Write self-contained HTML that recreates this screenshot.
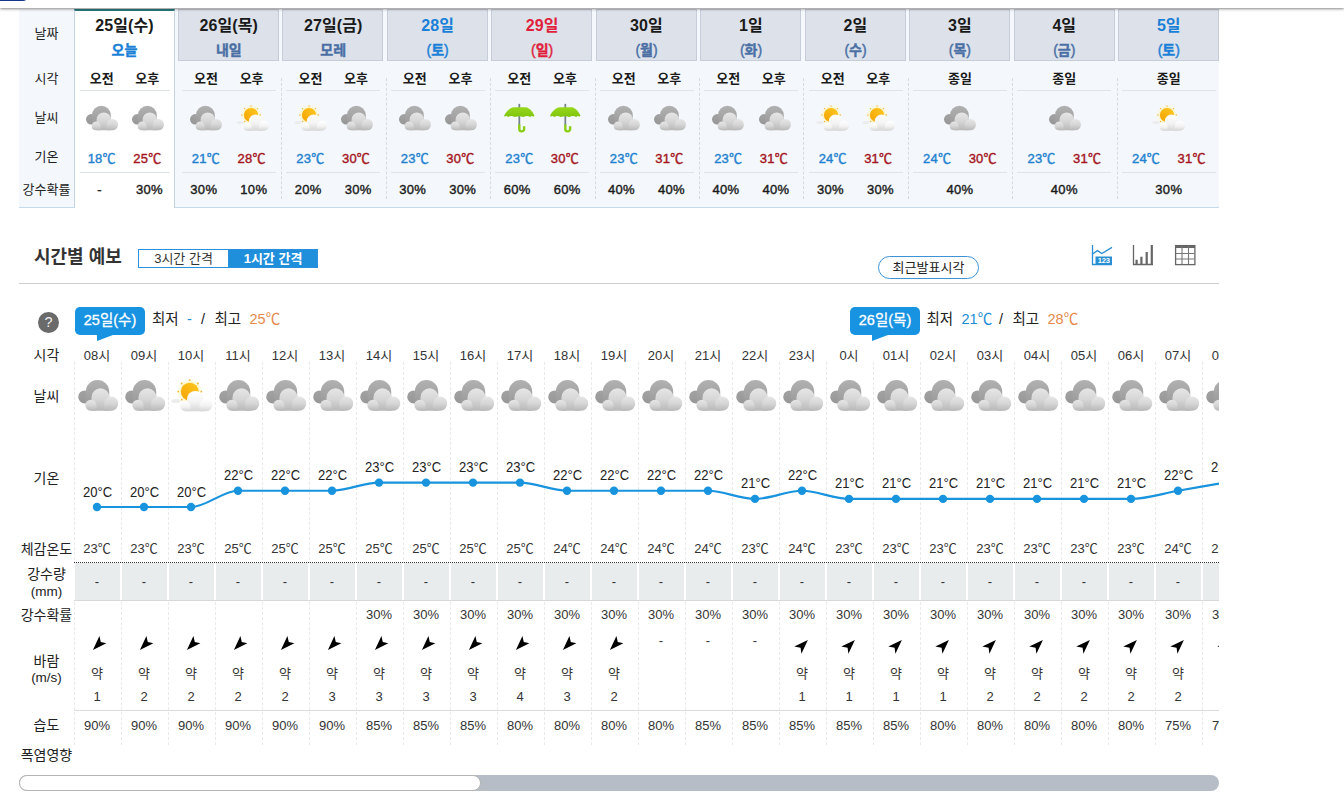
<!DOCTYPE html><html lang="ko"><head><meta charset="utf-8"><title>동네예보</title><style>
*{box-sizing:border-box;margin:0;padding:0}
html,body{width:1344px;height:807px;overflow:hidden;background:#fff}
body{position:relative;font-family:"Liberation Sans","Noto Sans CJK KR",sans-serif;font-size:13px;color:#222;line-height:1}
.a{position:absolute;white-space:nowrap}
svg.a{overflow:visible}
.c{position:absolute;white-space:nowrap;text-align:center}
b{font-weight:bold}
/* top bar */
#bar{left:0;top:0;width:1344px;height:8px;background:#fff;box-shadow:0 1px 3px rgba(0,0,0,.48);z-index:5}
#logo{left:0;top:-7px;width:28px;height:8px;background:#16368c;border-radius:0 0 5px 0;z-index:6}
/* weekly table */
#wk{left:19px;top:9px;width:1200px;height:199px;background:#f4f8fc;border-bottom:1px solid #c3dcec}
#today{left:74px;top:9px;width:101px;height:199px;background:#fff;border-left:1px solid #c4d4e2;border-right:1px solid #c4d4e2;border-top:2px solid #2a7d80}
.hd{top:9px;height:52px;background:#dde2ea;border:1px solid #c6ccd8}
.dl{width:0;border-left:1px dashed #d4dbe3;top:78px;height:121px}
.ul{height:1px;background:#dfe4ea}
.d1{font-size:16px;color:#1a1a1a;font-weight:bold;letter-spacing:.1px}
.d2{font-size:14px;-webkit-text-stroke:.4px currentColor}
.ap{font-size:13px;font-weight:bold;color:#1a1a1a}
.tl{color:#1f82d0;font-size:13px;-webkit-text-stroke:.4px currentColor;letter-spacing:.2px}
.th{color:#a5161f;font-size:13px;-webkit-text-stroke:.4px currentColor;letter-spacing:.2px}
.pp{color:#1a1a1a;font-size:13px;-webkit-text-stroke:.4px currentColor;letter-spacing:.3px}
.lb{color:#222;font-size:13px}
.blue{color:#1a7fd6}.red{color:#e01f3c}.mut{color:#4a6fa5}
/* hourly */
#ttl{left:34px;top:248px;font-size:18px;font-weight:bold;color:#333}
.tg{top:249px;height:19px;font-size:13px;line-height:17px;text-align:center;border:1px solid #2a8fdc}
#hr{left:19px;top:283px;width:1200px;height:1px;background:#cfcfcf}
#q{left:38px;top:312px;width:21px;height:21px;border-radius:50%;background:#6a6a6a;color:#eee;font-size:14.5px;line-height:21px;text-align:center}
.bdg{top:307px;height:28px;width:70px;background:#1893e2;border-radius:5px;color:#fff;font-size:14.5px;line-height:27px;text-align:center;letter-spacing:0;-webkit-text-stroke:.3px #fff}
.tail{width:0;height:0;border-style:solid;border-width:6.5px 16px 0 0;border-color:#1893e2 transparent transparent transparent;top:334px}
.mm{top:312px;font-size:14.5px;color:#222}
#recent{left:878px;top:256px;width:101px;height:23px;border:1px solid #3d93d6;border-radius:12px;font-size:13px;line-height:21px;text-align:center;color:#222}
#clip{left:19px;top:300px;width:1200px;height:470px;overflow:hidden}
.vl{width:0;border-left:1px dashed #eaeaea;top:62px;height:383px}
.h{font-size:13px;color:#333}
.gl{font-size:14px;color:#222;transform:scaleX(.93)}
.sm{font-size:11px;color:#333}
#dot{left:55px;top:262px;width:1145px;height:0;border-top:1px dotted #333}
.gc{top:263px;height:37px;background:#e9ecec}
#gb{left:55px;top:300px;width:1145px;height:1px;background:#d9d9d9}
#hb{left:55px;top:410px;width:1145px;height:1px;background:#dcdcdc}
#trk{left:19px;top:775px;width:1200px;height:16px;border-radius:8px;background:#b7bdc6}
#thm{left:19px;top:775px;width:462px;height:16px;border-radius:8px;background:#fff;border:1px solid #b4b4b4}
</style></head><body><svg width="0" height="0" style="position:absolute"><defs>
<linearGradient id="gF" x1="0" y1="0" x2="0" y2="1"><stop offset="0" stop-color="#e6e6e6"/><stop offset=".5" stop-color="#d6d6d6"/><stop offset="1" stop-color="#b8b8b8"/></linearGradient>
<linearGradient id="gB" x1="0" y1="0" x2="0" y2="1"><stop offset="0" stop-color="#b1b1b1"/><stop offset="1" stop-color="#9b9b9b"/></linearGradient>
<linearGradient id="gB2" x1="0" y1="0" x2="0" y2="1"><stop offset="0" stop-color="#a2a2a2"/><stop offset="1" stop-color="#979797"/></linearGradient>
<linearGradient id="gW" x1="0" y1="0" x2="0" y2="1"><stop offset="0" stop-color="#ffffff"/><stop offset=".55" stop-color="#f3f3f3"/><stop offset="1" stop-color="#d6d6d6"/></linearGradient>
<linearGradient id="gS" x1="0" y1="1" x2="1" y2="0"><stop offset="0" stop-color="#f5a200"/><stop offset="1" stop-color="#ffc821"/></linearGradient>
<radialGradient id="gG"><stop offset=".6" stop-color="#fff1a0" stop-opacity=".9"/><stop offset="1" stop-color="#fff6c0" stop-opacity="0"/></radialGradient>
<linearGradient id="gU" x1="0" y1="0" x2="0" y2="1"><stop offset="0" stop-color="#98d81c"/><stop offset="1" stop-color="#7fc40e"/></linearGradient>
<symbol id="cloudy" viewBox="0 0 42 34">
 <path fill="url(#gB2)" d="M1.200 17.900a6.500 6.500 0 0 1 13 0v6.500H7.700A6.500 6.500 0 0 1 1.200 17.900z"/>
 <path fill="url(#gB)" d="M8.800 12.700a11.700 11.700 0 0 1 23.400 0V24H8.800z"/>
 <path fill="url(#gF)" d="M14.500 18.300a9 9 0 0 1 18 0V31.700H14.500z"/>
 <path fill="url(#gF)" d="M8.300 26.300a5.600 5.600 0 0 1 11.200 0v5.400H13.900A5.600 5.600 0 0 1 8.300 26.300z"/>
 <path fill="url(#gF)" d="M27.200 24.400a7 7 0 0 1 14 0v.3a7 7 0 0 1-7 7H27.200z"/>
</symbol>
<symbol id="sunny" viewBox="0 0 42 34">
 <circle cx="18.8" cy="12.6" r="13" fill="url(#gG)"/>
 <g fill="#f2b233"><circle cx="18.8" cy="1.1" r=".9"/><circle cx="10.7" cy="4.5" r=".9"/><circle cx="26.9" cy="4.5" r=".9"/><circle cx="7.3" cy="12.6" r=".9"/><circle cx="10.7" cy="20.7" r=".9"/><circle cx="30.3" cy="12.6" r=".9"/></g>
 <circle cx="18.8" cy="12.6" r="8.9" fill="url(#gS)"/>
 <ellipse cx="5" cy="22" rx="4.6" ry="2" fill="#ececec"/>
 <path fill="url(#gW)" d="M16 20.300a8.400 8.400 0 0 1 16.800 0V32.200H16z"/>
 <path fill="url(#gW)" d="M9.300 27.300a5.100 5.100 0 0 1 10.200 0V32.200H14.400a5.100 5.100 0 0 1-5.100-4.900z"/>
 <path fill="url(#gW)" d="M28.600 26a6.400 6.400 0 0 1 12.800 0a6.300 6.300 0 0 1-6.300 6.200H28.600z"/>
</symbol>
<symbol id="rain" viewBox="0 0 42 34" overflow="visible">
 <rect x="19.300" y="-1.400" width="2.200" height="27" fill="#74838b"/>
 <path fill="url(#gU)" d="M1.400 13.200C4 8 8.500 3.600 13 2.800H28.500C33 3.600 37 8 39.200 13.200L38.300 14.700Q36 12.800 34 14.900Q30 12.600 25.500 15.100Q20.400 12.800 14.500 15.100Q10.500 12.600 6.500 14.900Q4 12.800 2.300 14.700Z"/>
 <path fill="none" stroke="#8bcd13" stroke-width="3" d="M20.400 24.500V30a3 3 0 0 0 6 0V26.600"/>
</symbol>
<symbol id="arA" viewBox="-10 -10 20 20"><path d="M-4.100 6.900L2.400-7 3.800-1.100 9.400.2z"/></symbol>
<symbol id="arB" viewBox="-10 -10 20 20"><path d="M5.900-6.900L-7.700-.6-1.400.7-.6 6.650z"/></symbol>
</defs></svg><div id="bar" class="a"></div><div id="logo" class="a"></div><div id="wk" class="a"></div><div id="today" class="a"></div><div class="c lb" style="left:16.5px;top:27.0px;width:60px">날짜</div><div class="c lb" style="left:16.5px;top:71.5px;width:60px">시각</div><div class="c lb" style="left:16.5px;top:111.0px;width:60px">날씨</div><div class="c lb" style="left:16.5px;top:150.0px;width:60px">기온</div><div class="c lb" style="left:16.5px;top:182.5px;width:60px">강수확률</div><div class="c d1 " style="left:72.5px;top:18.4px;width:104px">25일(수)</div><div class="c d2 blue" style="left:72.5px;top:43.0px;width:104px"><b>오늘</b></div><div class="c ap" style="left:79.7px;top:72.0px;width:44px">오전</div><div class="c ap" style="left:125.3px;top:72.0px;width:44px">오후</div><svg class="a" style="left:84.9px;top:105.0px" width="33.6" height="27.2"><use href="#cloudy"/></svg><svg class="a" style="left:131.3px;top:105.0px" width="33.6" height="27.2"><use href="#cloudy"/></svg><div class="c pp" style="left:77.5px;top:183.0px;width:44px">-</div><div class="c pp" style="left:127.5px;top:183.0px;width:44px">30%</div><div class="c tl" style="left:79.7px;top:151.5px;width:44px">18℃</div><div class="c th" style="left:125.3px;top:151.5px;width:44px">25℃</div><div class="a ul" style="left:79.5px;top:90px;width:90px"></div><div class="a ul" style="left:79.5px;top:172px;width:90px"></div><div class="a hd" style="left:178.0px;width:101.0px"></div><div class="a hd" style="left:282.4px;width:101.0px"></div><div class="a dl" style="left:281.1px"></div><div class="a hd" style="left:386.9px;width:101.0px"></div><div class="a dl" style="left:385.6px"></div><div class="a hd" style="left:491.4px;width:101.0px"></div><div class="a dl" style="left:490.1px"></div><div class="a hd" style="left:595.8px;width:101.0px"></div><div class="a dl" style="left:594.5px"></div><div class="a hd" style="left:700.2px;width:101.0px"></div><div class="a dl" style="left:699.0px"></div><div class="a hd" style="left:804.7px;width:101.0px"></div><div class="a dl" style="left:803.4px"></div><div class="a hd" style="left:909.1px;width:101.0px"></div><div class="a dl" style="left:907.9px"></div><div class="a hd" style="left:1013.6px;width:101.0px"></div><div class="a dl" style="left:1012.3px"></div><div class="a hd" style="left:1118.1px;width:101.0px"></div><div class="a dl" style="left:1116.8px"></div><div class="c d1 " style="left:176.8px;top:18.4px;width:104px">26일(목)</div><div class="c d2 mut" style="left:176.8px;top:43.0px;width:104px"><b>내일</b></div><div class="c ap" style="left:183.9px;top:72.0px;width:44px">오전</div><div class="c ap" style="left:229.6px;top:72.0px;width:44px">오후</div><svg class="a" style="left:189.1px;top:105.0px" width="33.6" height="27.2"><use href="#cloudy"/></svg><svg class="a" style="left:235.6px;top:105.0px" width="33.6" height="27.2"><use href="#sunny"/></svg><div class="c pp" style="left:181.8px;top:183.0px;width:44px">30%</div><div class="c pp" style="left:231.8px;top:183.0px;width:44px">10%</div><div class="c tl" style="left:183.9px;top:151.5px;width:44px">21℃</div><div class="c th" style="left:229.6px;top:151.5px;width:44px">28℃</div><div class="a ul" style="left:181.8px;top:90px;width:94px"></div><div class="a ul" style="left:181.8px;top:172px;width:94px"></div><div class="c d1 " style="left:281.2px;top:18.4px;width:104px">27일(금)</div><div class="c d2 mut" style="left:281.2px;top:43.0px;width:104px"><b>모레</b></div><div class="c ap" style="left:288.4px;top:72.0px;width:44px">오전</div><div class="c ap" style="left:334.0px;top:72.0px;width:44px">오후</div><svg class="a" style="left:293.6px;top:105.0px" width="33.6" height="27.2"><use href="#sunny"/></svg><svg class="a" style="left:340.0px;top:105.0px" width="33.6" height="27.2"><use href="#cloudy"/></svg><div class="c pp" style="left:286.2px;top:183.0px;width:44px">20%</div><div class="c pp" style="left:336.2px;top:183.0px;width:44px">30%</div><div class="c tl" style="left:288.4px;top:151.5px;width:44px">23℃</div><div class="c th" style="left:334.0px;top:151.5px;width:44px">30℃</div><div class="a ul" style="left:286.2px;top:90px;width:94px"></div><div class="a ul" style="left:286.2px;top:172px;width:94px"></div><div class="c d1 blue" style="left:385.6px;top:18.4px;width:104px">28일</div><div class="c d2 blue" style="left:385.6px;top:43.0px;width:104px">(<b>토</b>)</div><div class="c ap" style="left:392.8px;top:72.0px;width:44px">오전</div><div class="c ap" style="left:438.4px;top:72.0px;width:44px">오후</div><svg class="a" style="left:398.0px;top:105.0px" width="33.6" height="27.2"><use href="#cloudy"/></svg><svg class="a" style="left:444.4px;top:105.0px" width="33.6" height="27.2"><use href="#cloudy"/></svg><div class="c pp" style="left:390.6px;top:183.0px;width:44px">30%</div><div class="c pp" style="left:440.6px;top:183.0px;width:44px">30%</div><div class="c tl" style="left:392.8px;top:151.5px;width:44px">23℃</div><div class="c th" style="left:438.4px;top:151.5px;width:44px">30℃</div><div class="a ul" style="left:390.6px;top:90px;width:94px"></div><div class="a ul" style="left:390.6px;top:172px;width:94px"></div><div class="c d1 red" style="left:490.1px;top:18.4px;width:104px">29일</div><div class="c d2 red" style="left:490.1px;top:43.0px;width:104px">(<b>일</b>)</div><div class="c ap" style="left:497.3px;top:72.0px;width:44px">오전</div><div class="c ap" style="left:542.9px;top:72.0px;width:44px">오후</div><svg class="a" style="left:502.5px;top:105.0px" width="33.6" height="27.2"><use href="#rain"/></svg><svg class="a" style="left:548.9px;top:105.0px" width="33.6" height="27.2"><use href="#rain"/></svg><div class="c pp" style="left:495.1px;top:183.0px;width:44px">60%</div><div class="c pp" style="left:545.1px;top:183.0px;width:44px">60%</div><div class="c tl" style="left:497.3px;top:151.5px;width:44px">23℃</div><div class="c th" style="left:542.9px;top:151.5px;width:44px">30℃</div><div class="a ul" style="left:495.1px;top:90px;width:94px"></div><div class="a ul" style="left:495.1px;top:172px;width:94px"></div><div class="c d1 " style="left:594.5px;top:18.4px;width:104px">30일</div><div class="c d2 mut" style="left:594.5px;top:43.0px;width:104px">(<b>월</b>)</div><div class="c ap" style="left:601.8px;top:72.0px;width:44px">오전</div><div class="c ap" style="left:647.3px;top:72.0px;width:44px">오후</div><svg class="a" style="left:607.0px;top:105.0px" width="33.6" height="27.2"><use href="#cloudy"/></svg><svg class="a" style="left:653.3px;top:105.0px" width="33.6" height="27.2"><use href="#cloudy"/></svg><div class="c pp" style="left:599.5px;top:183.0px;width:44px">40%</div><div class="c pp" style="left:649.5px;top:183.0px;width:44px">40%</div><div class="c tl" style="left:601.8px;top:151.5px;width:44px">23℃</div><div class="c th" style="left:647.3px;top:151.5px;width:44px">31℃</div><div class="a ul" style="left:599.5px;top:90px;width:94px"></div><div class="a ul" style="left:599.5px;top:172px;width:94px"></div><div class="c d1 " style="left:699.0px;top:18.4px;width:104px">1일</div><div class="c d2 mut" style="left:699.0px;top:43.0px;width:104px">(<b>화</b>)</div><div class="c ap" style="left:706.2px;top:72.0px;width:44px">오전</div><div class="c ap" style="left:751.8px;top:72.0px;width:44px">오후</div><svg class="a" style="left:711.4px;top:105.0px" width="33.6" height="27.2"><use href="#cloudy"/></svg><svg class="a" style="left:757.8px;top:105.0px" width="33.6" height="27.2"><use href="#cloudy"/></svg><div class="c pp" style="left:704.0px;top:183.0px;width:44px">40%</div><div class="c pp" style="left:754.0px;top:183.0px;width:44px">40%</div><div class="c tl" style="left:706.2px;top:151.5px;width:44px">23℃</div><div class="c th" style="left:751.8px;top:151.5px;width:44px">31℃</div><div class="a ul" style="left:704.0px;top:90px;width:94px"></div><div class="a ul" style="left:704.0px;top:172px;width:94px"></div><div class="c d1 " style="left:803.5px;top:18.4px;width:104px">2일</div><div class="c d2 mut" style="left:803.5px;top:43.0px;width:104px">(<b>수</b>)</div><div class="c ap" style="left:810.7px;top:72.0px;width:44px">오전</div><div class="c ap" style="left:856.2px;top:72.0px;width:44px">오후</div><svg class="a" style="left:815.9px;top:105.0px" width="33.6" height="27.2"><use href="#sunny"/></svg><svg class="a" style="left:862.2px;top:105.0px" width="33.6" height="27.2"><use href="#sunny"/></svg><div class="c pp" style="left:808.5px;top:183.0px;width:44px">30%</div><div class="c pp" style="left:858.5px;top:183.0px;width:44px">30%</div><div class="c tl" style="left:810.7px;top:151.5px;width:44px">24℃</div><div class="c th" style="left:856.2px;top:151.5px;width:44px">31℃</div><div class="a ul" style="left:808.5px;top:90px;width:94px"></div><div class="a ul" style="left:808.5px;top:172px;width:94px"></div><div class="c d1 " style="left:907.9px;top:18.4px;width:104px">3일</div><div class="c d2 mut" style="left:907.9px;top:43.0px;width:104px">(<b>목</b>)</div><div class="c ap" style="left:937.9px;top:72.0px;width:44px">종일</div><svg class="a" style="left:943.1px;top:105.0px" width="33.6" height="27.2"><use href="#cloudy"/></svg><div class="c pp" style="left:937.9px;top:183.0px;width:44px">40%</div><div class="c tl" style="left:915.1px;top:151.5px;width:44px">24℃</div><div class="c th" style="left:960.7px;top:151.5px;width:44px">30℃</div><div class="a ul" style="left:912.9px;top:90px;width:94px"></div><div class="a ul" style="left:912.9px;top:172px;width:94px"></div><div class="c d1 " style="left:1012.3px;top:18.4px;width:104px">4일</div><div class="c d2 mut" style="left:1012.3px;top:43.0px;width:104px">(<b>금</b>)</div><div class="c ap" style="left:1042.3px;top:72.0px;width:44px">종일</div><svg class="a" style="left:1047.5px;top:105.0px" width="33.6" height="27.2"><use href="#cloudy"/></svg><div class="c pp" style="left:1042.3px;top:183.0px;width:44px">40%</div><div class="c tl" style="left:1019.5px;top:151.5px;width:44px">23℃</div><div class="c th" style="left:1065.1px;top:151.5px;width:44px">31℃</div><div class="a ul" style="left:1017.3px;top:90px;width:94px"></div><div class="a ul" style="left:1017.3px;top:172px;width:94px"></div><div class="c d1 blue" style="left:1116.8px;top:18.4px;width:104px">5일</div><div class="c d2 blue" style="left:1116.8px;top:43.0px;width:104px">(<b>토</b>)</div><div class="c ap" style="left:1146.8px;top:72.0px;width:44px">종일</div><svg class="a" style="left:1152.0px;top:105.0px" width="33.6" height="27.2"><use href="#sunny"/></svg><div class="c pp" style="left:1146.8px;top:183.0px;width:44px">30%</div><div class="c tl" style="left:1124.0px;top:151.5px;width:44px">24℃</div><div class="c th" style="left:1169.6px;top:151.5px;width:44px">31℃</div><div class="a ul" style="left:1121.8px;top:90px;width:94px"></div><div class="a ul" style="left:1121.8px;top:172px;width:94px"></div><div id="ttl" class="a">시간별 예보</div><div class="a tg" style="left:138px;width:91px;background:#fff;color:#333">3시간 간격</div><div class="a tg" style="left:228px;width:90px;background:#1f8fdc;color:#fff;font-weight:bold">1시간 간격</div><div id="recent" class="a">최근발표시각</div><svg class="a" style="left:1091px;top:244px" width="22" height="22" viewBox="0 0 22 22"><path d="M1.500 1v19.500H21" fill="none" stroke="#2a8fd2" stroke-width="1.300"/><path d="M1.500 10l5-3.400 4.300 2.900L21 3.400" fill="none" stroke="#2a8fd2" stroke-width="1.300"/><rect x="4.500" y="12.500" width="16.500" height="7.500" fill="#2a8fd2"/><text x="12.800" y="19.200" font-size="7.600" font-weight="bold" text-anchor="middle" fill="#fff" font-family="Liberation Sans,sans-serif" letter-spacing="-.2">123</text></svg><svg class="a" style="left:1132px;top:244px" width="22" height="22" viewBox="0 0 22 22"><path d="M1.500 1v19.500H21" fill="none" stroke="#666" stroke-width="1.300"/><path d="M4.600 20v-4.300M9.400 20v-7.200M14.700 20v-12.100M19.800 20V1" stroke="#666" stroke-width="2.200" fill="none"/></svg><svg class="a" style="left:1174px;top:244px" width="22" height="22" viewBox="0 0 22 22"><rect x="1.600" y="1.600" width="19.300" height="19" fill="none" stroke="#666" stroke-width="1.300"/><rect x="1.600" y="1.600" width="19.300" height="2.400" fill="#666"/><path d="M8 2v18.500M14.500 2v18.500M2 9.500h18.500M2 15h18.500" stroke="#777" stroke-width="1.100"/></svg><div id="hr" class="a"></div><div id="q" class="a">?</div><div id="clip" class="a"><div class="a bdg" style="left:56px;top:7px">25일(수)</div><div class="a tail" style="left:77.5px;top:34.5px"></div><div class="a mm" style="left:133.0px;top:12px">최저</div><div class="a mm" style="left:168.0px;top:12px;color:#1e8cd6">-</div><div class="a mm" style="left:182.0px;top:12px">/</div><div class="a mm" style="left:195.5px;top:12px">최고</div><div class="a mm" style="left:230.5px;top:12px;color:#e58a4a">25℃</div><div class="a bdg" style="left:831px;top:7px">26일(목)</div><div class="a tail" style="left:852.5px;top:34.5px"></div><div class="a mm" style="left:907.5px;top:12px">최저</div><div class="a mm" style="left:942.5px;top:12px;color:#1e8cd6">21℃</div><div class="a mm" style="left:980.0px;top:12px">/</div><div class="a mm" style="left:993.5px;top:12px">최고</div><div class="a mm" style="left:1028.5px;top:12px;color:#e58a4a">28℃</div><div class="c lb" style="left:-7.5px;top:48.0px;width:70px;font-size:14px">시각</div><div class="c lb" style="left:-7.5px;top:89.0px;width:70px;font-size:14px">날씨</div><div class="c lb" style="left:-7.5px;top:170.5px;width:70px;font-size:14px">기온</div><div class="c lb" style="left:-7.5px;top:241.5px;width:70px;font-size:14px">체감온도</div><div class="c lb" style="left:-7.5px;top:267.0px;width:70px;font-size:14px">강수량</div><div class="c lb" style="left:-7.5px;top:285.2px;width:70px;font-size:13.5px">(mm)</div><div class="c lb" style="left:-7.5px;top:307.5px;width:70px;font-size:14px">강수확률</div><div class="c lb" style="left:-7.5px;top:353.5px;width:70px;font-size:14px">바람</div><div class="c lb" style="left:-7.5px;top:371.2px;width:70px;font-size:13.5px">(m/s)</div><div class="c lb" style="left:-7.5px;top:418.3px;width:70px;font-size:14px">습도</div><div class="c lb" style="left:-7.5px;top:447.5px;width:70px;font-size:14px">폭염영향</div><div class="a gc" style="left:56px;width:45px"></div><div class="a gc" style="left:103px;width:45px"></div><div class="a gc" style="left:150px;width:45px"></div><div class="a gc" style="left:197px;width:45px"></div><div class="a gc" style="left:244px;width:45px"></div><div class="a gc" style="left:291px;width:45px"></div><div class="a gc" style="left:338px;width:45px"></div><div class="a gc" style="left:385px;width:45px"></div><div class="a gc" style="left:432px;width:45px"></div><div class="a gc" style="left:479px;width:45px"></div><div class="a gc" style="left:526px;width:45px"></div><div class="a gc" style="left:573px;width:45px"></div><div class="a gc" style="left:620px;width:45px"></div><div class="a gc" style="left:667px;width:45px"></div><div class="a gc" style="left:714px;width:45px"></div><div class="a gc" style="left:761px;width:45px"></div><div class="a gc" style="left:808px;width:45px"></div><div class="a gc" style="left:855px;width:45px"></div><div class="a gc" style="left:902px;width:45px"></div><div class="a gc" style="left:949px;width:45px"></div><div class="a gc" style="left:996px;width:45px"></div><div class="a gc" style="left:1043px;width:45px"></div><div class="a gc" style="left:1090px;width:45px"></div><div class="a gc" style="left:1137px;width:45px"></div><div class="a gc" style="left:1184px;width:45px"></div><div id="gb" class="a"></div><div id="hb" class="a"></div><div class="a vl" style="left:55px"></div><div class="a" style="left:54px;top:263px;width:2px;height:37px;background:#fff"></div><div class="a vl" style="left:102px"></div><div class="a" style="left:101px;top:263px;width:2px;height:37px;background:#fff"></div><div class="a vl" style="left:149px"></div><div class="a" style="left:148px;top:263px;width:2px;height:37px;background:#fff"></div><div class="a vl" style="left:196px"></div><div class="a" style="left:195px;top:263px;width:2px;height:37px;background:#fff"></div><div class="a vl" style="left:243px"></div><div class="a" style="left:242px;top:263px;width:2px;height:37px;background:#fff"></div><div class="a vl" style="left:290px"></div><div class="a" style="left:289px;top:263px;width:2px;height:37px;background:#fff"></div><div class="a vl" style="left:337px"></div><div class="a" style="left:336px;top:263px;width:2px;height:37px;background:#fff"></div><div class="a vl" style="left:384px"></div><div class="a" style="left:383px;top:263px;width:2px;height:37px;background:#fff"></div><div class="a vl" style="left:431px"></div><div class="a" style="left:430px;top:263px;width:2px;height:37px;background:#fff"></div><div class="a vl" style="left:478px"></div><div class="a" style="left:477px;top:263px;width:2px;height:37px;background:#fff"></div><div class="a vl" style="left:525px"></div><div class="a" style="left:524px;top:263px;width:2px;height:37px;background:#fff"></div><div class="a vl" style="left:572px"></div><div class="a" style="left:571px;top:263px;width:2px;height:37px;background:#fff"></div><div class="a vl" style="left:619px"></div><div class="a" style="left:618px;top:263px;width:2px;height:37px;background:#fff"></div><div class="a vl" style="left:666px"></div><div class="a" style="left:665px;top:263px;width:2px;height:37px;background:#fff"></div><div class="a vl" style="left:713px"></div><div class="a" style="left:712px;top:263px;width:2px;height:37px;background:#fff"></div><div class="a vl" style="left:760px"></div><div class="a" style="left:759px;top:263px;width:2px;height:37px;background:#fff"></div><div class="a vl" style="left:807px"></div><div class="a" style="left:806px;top:263px;width:2px;height:37px;background:#fff"></div><div class="a vl" style="left:854px"></div><div class="a" style="left:853px;top:263px;width:2px;height:37px;background:#fff"></div><div class="a vl" style="left:901px"></div><div class="a" style="left:900px;top:263px;width:2px;height:37px;background:#fff"></div><div class="a vl" style="left:948px"></div><div class="a" style="left:947px;top:263px;width:2px;height:37px;background:#fff"></div><div class="a vl" style="left:995px"></div><div class="a" style="left:994px;top:263px;width:2px;height:37px;background:#fff"></div><div class="a vl" style="left:1042px"></div><div class="a" style="left:1041px;top:263px;width:2px;height:37px;background:#fff"></div><div class="a vl" style="left:1089px"></div><div class="a" style="left:1088px;top:263px;width:2px;height:37px;background:#fff"></div><div class="a vl" style="left:1136px"></div><div class="a" style="left:1135px;top:263px;width:2px;height:37px;background:#fff"></div><div class="a vl" style="left:1183px"></div><div class="a" style="left:1182px;top:263px;width:2px;height:37px;background:#fff"></div><div class="a vl" style="left:1230px"></div><div class="a" style="left:1229px;top:263px;width:2px;height:37px;background:#fff"></div><div id="dot" class="a"></div><div class="c h" style="left:54.5px;top:49.0px;width:47px">08시</div><svg class="a" style="left:58.0px;top:79.0px" width="42" height="34"><use href="#cloudy"/></svg><div class="c gl" style="left:54.5px;top:184.5px;width:47px">20°C</div><div class="c h" style="left:54.5px;top:242.0px;width:47px">23℃</div><div class="c h" style="left:54.5px;top:274.5px;width:47px">-</div><svg class="a" style="left:68.0px;top:333.0px" width="20" height="20"><use href="#arA"/></svg><div class="c h" style="left:54.5px;top:367.0px;width:47px">약</div><div class="c h" style="left:54.5px;top:390.0px;width:47px">1</div><div class="c h" style="left:54.5px;top:419.0px;width:47px">90%</div><div class="c h" style="left:101.5px;top:49.0px;width:47px">09시</div><svg class="a" style="left:105.0px;top:79.0px" width="42" height="34"><use href="#cloudy"/></svg><div class="c gl" style="left:101.5px;top:184.5px;width:47px">20°C</div><div class="c h" style="left:101.5px;top:242.0px;width:47px">23℃</div><div class="c h" style="left:101.5px;top:274.5px;width:47px">-</div><svg class="a" style="left:115.0px;top:333.0px" width="20" height="20"><use href="#arA"/></svg><div class="c h" style="left:101.5px;top:367.0px;width:47px">약</div><div class="c h" style="left:101.5px;top:390.0px;width:47px">2</div><div class="c h" style="left:101.5px;top:419.0px;width:47px">90%</div><div class="c h" style="left:148.5px;top:49.0px;width:47px">10시</div><svg class="a" style="left:152.0px;top:79.0px" width="42" height="34"><use href="#sunny"/></svg><div class="c gl" style="left:148.5px;top:184.5px;width:47px">20°C</div><div class="c h" style="left:148.5px;top:242.0px;width:47px">23℃</div><div class="c h" style="left:148.5px;top:274.5px;width:47px">-</div><svg class="a" style="left:162.0px;top:333.0px" width="20" height="20"><use href="#arA"/></svg><div class="c h" style="left:148.5px;top:367.0px;width:47px">약</div><div class="c h" style="left:148.5px;top:390.0px;width:47px">2</div><div class="c h" style="left:148.5px;top:419.0px;width:47px">90%</div><div class="c h" style="left:195.5px;top:49.0px;width:47px">11시</div><svg class="a" style="left:199.0px;top:79.0px" width="42" height="34"><use href="#cloudy"/></svg><div class="c gl" style="left:195.5px;top:168.2px;width:47px">22°C</div><div class="c h" style="left:195.5px;top:242.0px;width:47px">25℃</div><div class="c h" style="left:195.5px;top:274.5px;width:47px">-</div><svg class="a" style="left:209.0px;top:333.0px" width="20" height="20"><use href="#arA"/></svg><div class="c h" style="left:195.5px;top:367.0px;width:47px">약</div><div class="c h" style="left:195.5px;top:390.0px;width:47px">2</div><div class="c h" style="left:195.5px;top:419.0px;width:47px">90%</div><div class="c h" style="left:242.5px;top:49.0px;width:47px">12시</div><svg class="a" style="left:246.0px;top:79.0px" width="42" height="34"><use href="#cloudy"/></svg><div class="c gl" style="left:242.5px;top:168.2px;width:47px">22°C</div><div class="c h" style="left:242.5px;top:242.0px;width:47px">25℃</div><div class="c h" style="left:242.5px;top:274.5px;width:47px">-</div><svg class="a" style="left:256.0px;top:333.0px" width="20" height="20"><use href="#arA"/></svg><div class="c h" style="left:242.5px;top:367.0px;width:47px">약</div><div class="c h" style="left:242.5px;top:390.0px;width:47px">2</div><div class="c h" style="left:242.5px;top:419.0px;width:47px">90%</div><div class="c h" style="left:289.5px;top:49.0px;width:47px">13시</div><svg class="a" style="left:293.0px;top:79.0px" width="42" height="34"><use href="#cloudy"/></svg><div class="c gl" style="left:289.5px;top:168.2px;width:47px">22°C</div><div class="c h" style="left:289.5px;top:242.0px;width:47px">25℃</div><div class="c h" style="left:289.5px;top:274.5px;width:47px">-</div><svg class="a" style="left:303.0px;top:333.0px" width="20" height="20"><use href="#arA"/></svg><div class="c h" style="left:289.5px;top:367.0px;width:47px">약</div><div class="c h" style="left:289.5px;top:390.0px;width:47px">3</div><div class="c h" style="left:289.5px;top:419.0px;width:47px">90%</div><div class="c h" style="left:336.5px;top:49.0px;width:47px">14시</div><svg class="a" style="left:340.0px;top:79.0px" width="42" height="34"><use href="#cloudy"/></svg><div class="c gl" style="left:336.5px;top:160.1px;width:47px">23°C</div><div class="c h" style="left:336.5px;top:242.0px;width:47px">25℃</div><div class="c h" style="left:336.5px;top:274.5px;width:47px">-</div><div class="c h" style="left:336.5px;top:307.8px;width:47px">30%</div><svg class="a" style="left:350.0px;top:333.0px" width="20" height="20"><use href="#arA"/></svg><div class="c h" style="left:336.5px;top:367.0px;width:47px">약</div><div class="c h" style="left:336.5px;top:390.0px;width:47px">3</div><div class="c h" style="left:336.5px;top:419.0px;width:47px">85%</div><div class="c h" style="left:383.5px;top:49.0px;width:47px">15시</div><svg class="a" style="left:387.0px;top:79.0px" width="42" height="34"><use href="#cloudy"/></svg><div class="c gl" style="left:383.5px;top:160.1px;width:47px">23°C</div><div class="c h" style="left:383.5px;top:242.0px;width:47px">25℃</div><div class="c h" style="left:383.5px;top:274.5px;width:47px">-</div><div class="c h" style="left:383.5px;top:307.8px;width:47px">30%</div><svg class="a" style="left:397.0px;top:333.0px" width="20" height="20"><use href="#arA"/></svg><div class="c h" style="left:383.5px;top:367.0px;width:47px">약</div><div class="c h" style="left:383.5px;top:390.0px;width:47px">3</div><div class="c h" style="left:383.5px;top:419.0px;width:47px">85%</div><div class="c h" style="left:430.5px;top:49.0px;width:47px">16시</div><svg class="a" style="left:434.0px;top:79.0px" width="42" height="34"><use href="#cloudy"/></svg><div class="c gl" style="left:430.5px;top:160.1px;width:47px">23°C</div><div class="c h" style="left:430.5px;top:242.0px;width:47px">25℃</div><div class="c h" style="left:430.5px;top:274.5px;width:47px">-</div><div class="c h" style="left:430.5px;top:307.8px;width:47px">30%</div><svg class="a" style="left:444.0px;top:333.0px" width="20" height="20"><use href="#arA"/></svg><div class="c h" style="left:430.5px;top:367.0px;width:47px">약</div><div class="c h" style="left:430.5px;top:390.0px;width:47px">3</div><div class="c h" style="left:430.5px;top:419.0px;width:47px">85%</div><div class="c h" style="left:477.5px;top:49.0px;width:47px">17시</div><svg class="a" style="left:481.0px;top:79.0px" width="42" height="34"><use href="#cloudy"/></svg><div class="c gl" style="left:477.5px;top:160.1px;width:47px">23°C</div><div class="c h" style="left:477.5px;top:242.0px;width:47px">25℃</div><div class="c h" style="left:477.5px;top:274.5px;width:47px">-</div><div class="c h" style="left:477.5px;top:307.8px;width:47px">30%</div><svg class="a" style="left:491.0px;top:333.0px" width="20" height="20"><use href="#arA"/></svg><div class="c h" style="left:477.5px;top:367.0px;width:47px">약</div><div class="c h" style="left:477.5px;top:390.0px;width:47px">4</div><div class="c h" style="left:477.5px;top:419.0px;width:47px">80%</div><div class="c h" style="left:524.5px;top:49.0px;width:47px">18시</div><svg class="a" style="left:528.0px;top:79.0px" width="42" height="34"><use href="#cloudy"/></svg><div class="c gl" style="left:524.5px;top:168.2px;width:47px">22°C</div><div class="c h" style="left:524.5px;top:242.0px;width:47px">24℃</div><div class="c h" style="left:524.5px;top:274.5px;width:47px">-</div><div class="c h" style="left:524.5px;top:307.8px;width:47px">30%</div><svg class="a" style="left:538.0px;top:333.0px" width="20" height="20"><use href="#arA"/></svg><div class="c h" style="left:524.5px;top:367.0px;width:47px">약</div><div class="c h" style="left:524.5px;top:390.0px;width:47px">3</div><div class="c h" style="left:524.5px;top:419.0px;width:47px">80%</div><div class="c h" style="left:571.5px;top:49.0px;width:47px">19시</div><svg class="a" style="left:575.0px;top:79.0px" width="42" height="34"><use href="#cloudy"/></svg><div class="c gl" style="left:571.5px;top:168.2px;width:47px">22°C</div><div class="c h" style="left:571.5px;top:242.0px;width:47px">24℃</div><div class="c h" style="left:571.5px;top:274.5px;width:47px">-</div><div class="c h" style="left:571.5px;top:307.8px;width:47px">30%</div><svg class="a" style="left:585.0px;top:333.0px" width="20" height="20"><use href="#arA"/></svg><div class="c h" style="left:571.5px;top:367.0px;width:47px">약</div><div class="c h" style="left:571.5px;top:390.0px;width:47px">2</div><div class="c h" style="left:571.5px;top:419.0px;width:47px">80%</div><div class="c h" style="left:618.5px;top:49.0px;width:47px">20시</div><svg class="a" style="left:622.0px;top:79.0px" width="42" height="34"><use href="#cloudy"/></svg><div class="c gl" style="left:618.5px;top:168.2px;width:47px">22°C</div><div class="c h" style="left:618.5px;top:242.0px;width:47px">24℃</div><div class="c h" style="left:618.5px;top:274.5px;width:47px">-</div><div class="c h" style="left:618.5px;top:307.8px;width:47px">30%</div><div class="c h" style="left:618.5px;top:333.5px;width:47px">-</div><div class="c h" style="left:618.5px;top:419.0px;width:47px">80%</div><div class="c h" style="left:665.5px;top:49.0px;width:47px">21시</div><svg class="a" style="left:669.0px;top:79.0px" width="42" height="34"><use href="#cloudy"/></svg><div class="c gl" style="left:665.5px;top:168.2px;width:47px">22°C</div><div class="c h" style="left:665.5px;top:242.0px;width:47px">24℃</div><div class="c h" style="left:665.5px;top:274.5px;width:47px">-</div><div class="c h" style="left:665.5px;top:307.8px;width:47px">30%</div><div class="c h" style="left:665.5px;top:333.5px;width:47px">-</div><div class="c h" style="left:665.5px;top:419.0px;width:47px">85%</div><div class="c h" style="left:712.5px;top:49.0px;width:47px">22시</div><svg class="a" style="left:716.0px;top:79.0px" width="42" height="34"><use href="#cloudy"/></svg><div class="c gl" style="left:712.5px;top:176.4px;width:47px">21°C</div><div class="c h" style="left:712.5px;top:242.0px;width:47px">23℃</div><div class="c h" style="left:712.5px;top:274.5px;width:47px">-</div><div class="c h" style="left:712.5px;top:307.8px;width:47px">30%</div><div class="c h" style="left:712.5px;top:333.5px;width:47px">-</div><div class="c h" style="left:712.5px;top:419.0px;width:47px">85%</div><div class="c h" style="left:759.5px;top:49.0px;width:47px">23시</div><svg class="a" style="left:763.0px;top:79.0px" width="42" height="34"><use href="#cloudy"/></svg><div class="c gl" style="left:759.5px;top:168.2px;width:47px">22°C</div><div class="c h" style="left:759.5px;top:242.0px;width:47px">24℃</div><div class="c h" style="left:759.5px;top:274.5px;width:47px">-</div><div class="c h" style="left:759.5px;top:307.8px;width:47px">30%</div><svg class="a" style="left:773.0px;top:337.0px" width="20" height="20"><use href="#arB"/></svg><div class="c h" style="left:759.5px;top:367.0px;width:47px">약</div><div class="c h" style="left:759.5px;top:390.0px;width:47px">1</div><div class="c h" style="left:759.5px;top:419.0px;width:47px">85%</div><div class="c h" style="left:806.5px;top:49.0px;width:47px">0시</div><svg class="a" style="left:810.0px;top:79.0px" width="42" height="34"><use href="#cloudy"/></svg><div class="c gl" style="left:806.5px;top:176.4px;width:47px">21°C</div><div class="c h" style="left:806.5px;top:242.0px;width:47px">23℃</div><div class="c h" style="left:806.5px;top:274.5px;width:47px">-</div><div class="c h" style="left:806.5px;top:307.8px;width:47px">30%</div><svg class="a" style="left:820.0px;top:337.0px" width="20" height="20"><use href="#arB"/></svg><div class="c h" style="left:806.5px;top:367.0px;width:47px">약</div><div class="c h" style="left:806.5px;top:390.0px;width:47px">1</div><div class="c h" style="left:806.5px;top:419.0px;width:47px">85%</div><div class="c h" style="left:853.5px;top:49.0px;width:47px">01시</div><svg class="a" style="left:857.0px;top:79.0px" width="42" height="34"><use href="#cloudy"/></svg><div class="c gl" style="left:853.5px;top:176.4px;width:47px">21°C</div><div class="c h" style="left:853.5px;top:242.0px;width:47px">23℃</div><div class="c h" style="left:853.5px;top:274.5px;width:47px">-</div><div class="c h" style="left:853.5px;top:307.8px;width:47px">30%</div><svg class="a" style="left:867.0px;top:337.0px" width="20" height="20"><use href="#arB"/></svg><div class="c h" style="left:853.5px;top:367.0px;width:47px">약</div><div class="c h" style="left:853.5px;top:390.0px;width:47px">1</div><div class="c h" style="left:853.5px;top:419.0px;width:47px">85%</div><div class="c h" style="left:900.5px;top:49.0px;width:47px">02시</div><svg class="a" style="left:904.0px;top:79.0px" width="42" height="34"><use href="#cloudy"/></svg><div class="c gl" style="left:900.5px;top:176.4px;width:47px">21°C</div><div class="c h" style="left:900.5px;top:242.0px;width:47px">23℃</div><div class="c h" style="left:900.5px;top:274.5px;width:47px">-</div><div class="c h" style="left:900.5px;top:307.8px;width:47px">30%</div><svg class="a" style="left:914.0px;top:337.0px" width="20" height="20"><use href="#arB"/></svg><div class="c h" style="left:900.5px;top:367.0px;width:47px">약</div><div class="c h" style="left:900.5px;top:390.0px;width:47px">1</div><div class="c h" style="left:900.5px;top:419.0px;width:47px">80%</div><div class="c h" style="left:947.5px;top:49.0px;width:47px">03시</div><svg class="a" style="left:951.0px;top:79.0px" width="42" height="34"><use href="#cloudy"/></svg><div class="c gl" style="left:947.5px;top:176.4px;width:47px">21°C</div><div class="c h" style="left:947.5px;top:242.0px;width:47px">23℃</div><div class="c h" style="left:947.5px;top:274.5px;width:47px">-</div><div class="c h" style="left:947.5px;top:307.8px;width:47px">30%</div><svg class="a" style="left:961.0px;top:337.0px" width="20" height="20"><use href="#arB"/></svg><div class="c h" style="left:947.5px;top:367.0px;width:47px">약</div><div class="c h" style="left:947.5px;top:390.0px;width:47px">2</div><div class="c h" style="left:947.5px;top:419.0px;width:47px">80%</div><div class="c h" style="left:994.5px;top:49.0px;width:47px">04시</div><svg class="a" style="left:998.0px;top:79.0px" width="42" height="34"><use href="#cloudy"/></svg><div class="c gl" style="left:994.5px;top:176.4px;width:47px">21°C</div><div class="c h" style="left:994.5px;top:242.0px;width:47px">23℃</div><div class="c h" style="left:994.5px;top:274.5px;width:47px">-</div><div class="c h" style="left:994.5px;top:307.8px;width:47px">30%</div><svg class="a" style="left:1008.0px;top:337.0px" width="20" height="20"><use href="#arB"/></svg><div class="c h" style="left:994.5px;top:367.0px;width:47px">약</div><div class="c h" style="left:994.5px;top:390.0px;width:47px">2</div><div class="c h" style="left:994.5px;top:419.0px;width:47px">80%</div><div class="c h" style="left:1041.5px;top:49.0px;width:47px">05시</div><svg class="a" style="left:1045.0px;top:79.0px" width="42" height="34"><use href="#cloudy"/></svg><div class="c gl" style="left:1041.5px;top:176.4px;width:47px">21°C</div><div class="c h" style="left:1041.5px;top:242.0px;width:47px">23℃</div><div class="c h" style="left:1041.5px;top:274.5px;width:47px">-</div><div class="c h" style="left:1041.5px;top:307.8px;width:47px">30%</div><svg class="a" style="left:1055.0px;top:337.0px" width="20" height="20"><use href="#arB"/></svg><div class="c h" style="left:1041.5px;top:367.0px;width:47px">약</div><div class="c h" style="left:1041.5px;top:390.0px;width:47px">2</div><div class="c h" style="left:1041.5px;top:419.0px;width:47px">80%</div><div class="c h" style="left:1088.5px;top:49.0px;width:47px">06시</div><svg class="a" style="left:1092.0px;top:79.0px" width="42" height="34"><use href="#cloudy"/></svg><div class="c gl" style="left:1088.5px;top:176.4px;width:47px">21°C</div><div class="c h" style="left:1088.5px;top:242.0px;width:47px">23℃</div><div class="c h" style="left:1088.5px;top:274.5px;width:47px">-</div><div class="c h" style="left:1088.5px;top:307.8px;width:47px">30%</div><svg class="a" style="left:1102.0px;top:337.0px" width="20" height="20"><use href="#arB"/></svg><div class="c h" style="left:1088.5px;top:367.0px;width:47px">약</div><div class="c h" style="left:1088.5px;top:390.0px;width:47px">2</div><div class="c h" style="left:1088.5px;top:419.0px;width:47px">80%</div><div class="c h" style="left:1135.5px;top:49.0px;width:47px">07시</div><svg class="a" style="left:1139.0px;top:79.0px" width="42" height="34"><use href="#cloudy"/></svg><div class="c gl" style="left:1135.5px;top:168.2px;width:47px">22°C</div><div class="c h" style="left:1135.5px;top:242.0px;width:47px">24℃</div><div class="c h" style="left:1135.5px;top:274.5px;width:47px">-</div><div class="c h" style="left:1135.5px;top:307.8px;width:47px">30%</div><svg class="a" style="left:1149.0px;top:337.0px" width="20" height="20"><use href="#arB"/></svg><div class="c h" style="left:1135.5px;top:367.0px;width:47px">약</div><div class="c h" style="left:1135.5px;top:390.0px;width:47px">2</div><div class="c h" style="left:1135.5px;top:419.0px;width:47px">75%</div><div class="c h" style="left:1182.5px;top:49.0px;width:47px">08시</div><svg class="a" style="left:1186.0px;top:79.0px" width="42" height="34"><use href="#cloudy"/></svg><div class="c gl" style="left:1182.5px;top:160.1px;width:47px">23°C</div><div class="c h" style="left:1182.5px;top:242.0px;width:47px">25℃</div><div class="c h" style="left:1182.5px;top:274.5px;width:47px">-</div><div class="c h" style="left:1182.5px;top:307.8px;width:47px">30%</div><svg class="a" style="left:1196.0px;top:337.0px" width="20" height="20"><use href="#arB"/></svg><div class="c h" style="left:1182.5px;top:367.0px;width:47px">약</div><div class="c h" style="left:1182.5px;top:390.0px;width:47px">2</div><div class="c h" style="left:1182.5px;top:419.0px;width:47px">75%</div><svg class="a" style="left:0;top:0" width="1260" height="470"><path d="M78.0 207.0C93.7 207.00 109.3 207.00 125.0 207.00C140.7 207.00 156.3 207.00 172.0 207.00C187.7 207.00 203.3 190.75 219.0 190.75C234.7 190.75 250.3 190.75 266.0 190.75C281.7 190.75 297.3 190.75 313.0 190.75C328.7 190.75 344.3 182.62 360.0 182.62C375.7 182.62 391.3 182.62 407.0 182.62C422.7 182.62 438.3 182.62 454.0 182.62C469.7 182.62 485.3 182.62 501.0 182.62C516.7 182.62 532.3 190.75 548.0 190.75C563.7 190.75 579.3 190.75 595.0 190.75C610.7 190.75 626.3 190.75 642.0 190.75C657.7 190.75 673.3 190.75 689.0 190.75C704.7 190.75 720.3 198.88 736.0 198.88C751.7 198.88 767.3 190.75 783.0 190.75C798.7 190.75 814.3 198.88 830.0 198.88C845.7 198.88 861.3 198.88 877.0 198.88C892.7 198.88 908.3 198.88 924.0 198.88C939.7 198.88 955.3 198.88 971.0 198.88C986.7 198.88 1002.3 198.88 1018.0 198.88C1033.7 198.88 1049.3 198.88 1065.0 198.88C1080.7 198.88 1096.3 198.88 1112.0 198.88C1127.7 198.88 1143.3 193.46 1159.0 190.75C1174.7 188.04 1190.3 185.33 1206.0 182.62" fill="none" stroke="#1893de" stroke-width="2.200"/><g fill="#1893de"><circle cx="78.0" cy="207.00" r="4.2"/><circle cx="125.0" cy="207.00" r="4.2"/><circle cx="172.0" cy="207.00" r="4.2"/><circle cx="219.0" cy="190.75" r="4.2"/><circle cx="266.0" cy="190.75" r="4.2"/><circle cx="313.0" cy="190.75" r="4.2"/><circle cx="360.0" cy="182.62" r="4.2"/><circle cx="407.0" cy="182.62" r="4.2"/><circle cx="454.0" cy="182.62" r="4.2"/><circle cx="501.0" cy="182.62" r="4.2"/><circle cx="548.0" cy="190.75" r="4.2"/><circle cx="595.0" cy="190.75" r="4.2"/><circle cx="642.0" cy="190.75" r="4.2"/><circle cx="689.0" cy="190.75" r="4.2"/><circle cx="736.0" cy="198.88" r="4.2"/><circle cx="783.0" cy="190.75" r="4.2"/><circle cx="830.0" cy="198.88" r="4.2"/><circle cx="877.0" cy="198.88" r="4.2"/><circle cx="924.0" cy="198.88" r="4.2"/><circle cx="971.0" cy="198.88" r="4.2"/><circle cx="1018.0" cy="198.88" r="4.2"/><circle cx="1065.0" cy="198.88" r="4.2"/><circle cx="1112.0" cy="198.88" r="4.2"/><circle cx="1159.0" cy="190.75" r="4.2"/><circle cx="1206.0" cy="182.62" r="4.2"/></g></svg></div><div id="trk" class="a"></div><div id="thm" class="a"></div></body></html>
